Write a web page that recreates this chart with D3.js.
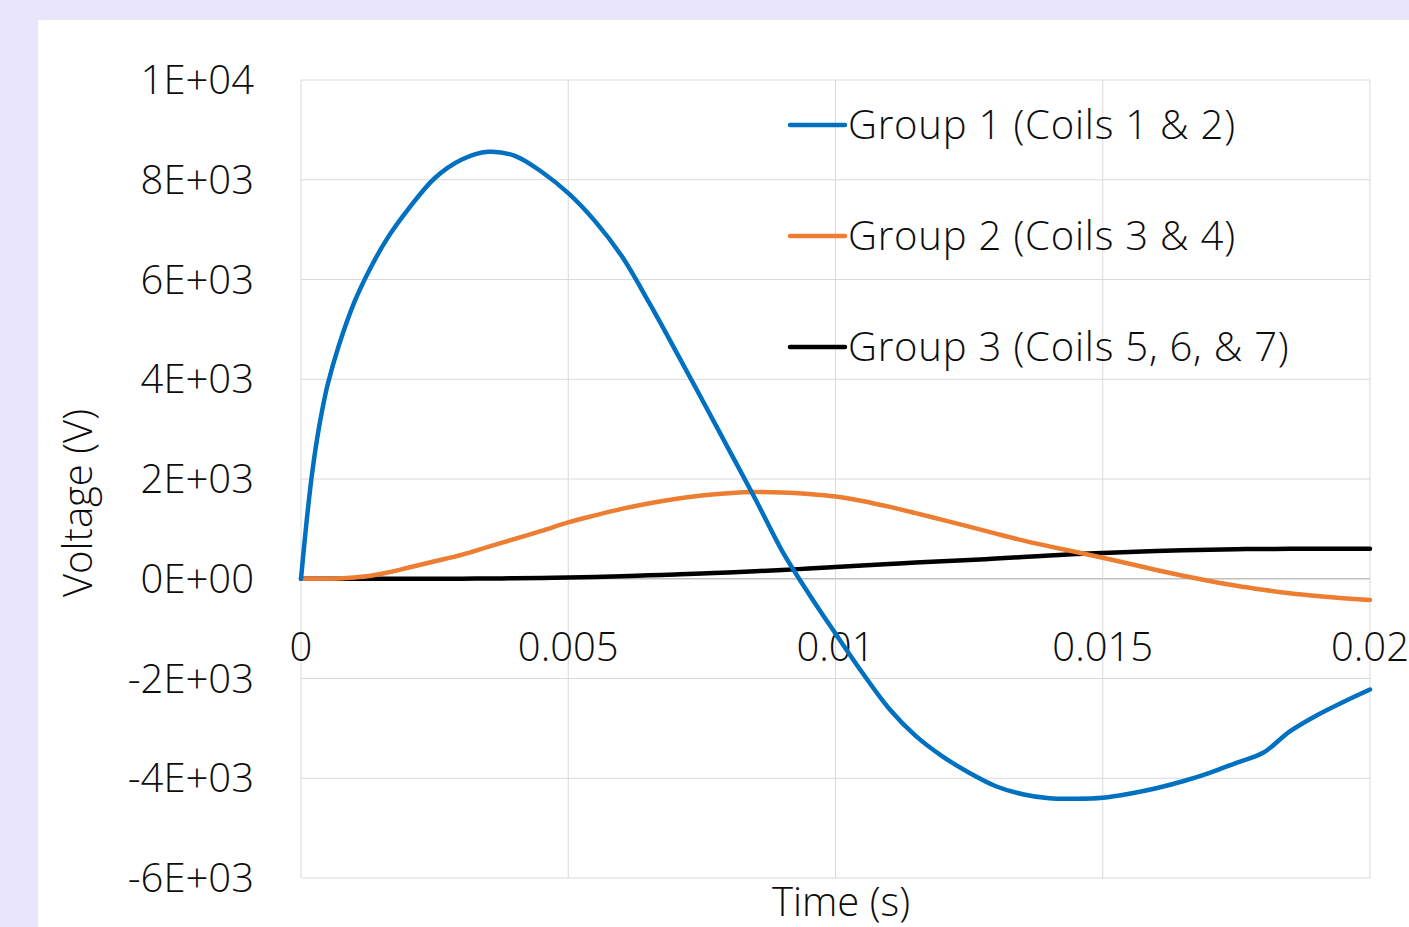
<!DOCTYPE html>
<html>
<head>
<meta charset="utf-8">
<script src="https://cdn.jsdelivr.net/npm/d3@7"></script>
<style>
  html, body { margin: 0; padding: 0; background: #e9e5fb; }
  svg { display: block; }
  text { font-family: "Open Sans", "Noto Sans", sans-serif; font-weight: 300; fill: #0d0d0d; }
</style>
</head>
<body>
<div id="graph"></div>
<script>
// time samples (s)
const times = [0, 0.0001, 0.0002, 0.0003, 0.0004, 0.0005, 0.0007, 0.001, 0.0013, 0.0016,
  0.002, 0.0025, 0.003, 0.0035, 0.004, 0.0045, 0.005, 0.0055, 0.006, 0.0065,
  0.007, 0.0075, 0.008, 0.0085, 0.009, 0.0095, 0.01, 0.0105, 0.011, 0.0115,
  0.012, 0.0125, 0.013, 0.0135, 0.014, 0.0145, 0.015, 0.0155, 0.016, 0.0165,
  0.017, 0.0175, 0.018, 0.0185, 0.019, 0.0195, 0.02]

// voltages (V)
const group1 = [0, 1100, 2050, 2800, 3400, 3900, 4650, 5550, 6230, 6800,
  7400, 8030, 8400, 8560, 8480, 8160, 7730, 7170, 6470, 5560,
  4590, 3600, 2600, 1600, 560, -300, -1100, -1880, -2600, -3150,
  -3560, -3890, -4160, -4320, -4400, -4410, -4390, -4310, -4200, -4060,
  -3890, -3690, -3490, -3060, -2740, -2470, -2220]
const group2 = [0, 0, 0, 0, 0, 0, 5, 25, 60, 120,
  220, 350, 480, 640, 800, 960, 1130, 1270, 1400, 1510,
  1600, 1670, 1715, 1737, 1730, 1700, 1650, 1560, 1445, 1315,
  1180, 1045, 905, 770, 650, 535, 420, 300, 175, 60,
  -45, -140, -220, -290, -345, -390, -425]
const group3 = [0, 0, 0, 0, 0, 0, 0, 0, 0, 0,
  0, 0, 0, 5, 10, 15, 25, 35, 50, 68,
  87, 105, 125, 150, 175, 205, 235, 265, 295, 325,
  350, 375, 405, 435, 465, 495, 515, 535, 555, 572,
  583, 592, 597, 600, 601, 601, 601]

const seriesNames = ["Group 1 (Coils 1 & 2)", "Group 2 (Coils 3 & 4)", "Group 3 (Coils 5, 6, & 7)"]
const seriesColors = ["#0070c0", "#ed7d31", "#000000"]

const yTickValues = [-6000, -4000, -2000, 0, 2000, 4000, 6000, 8000, 10000]
const yTickLabels = ["-6E+03", "-4E+03", "-2E+03", "0E+00", "2E+03", "4E+03", "6E+03", "8E+03", "1E+04"]
const xTickValues = [0, 0.005, 0.01, 0.015, 0.02]
const xTickLabels = ["0", "0.005", "0.01", "0.015", "0.02"]

const W = 1409, H = 927
const plot = { left: 301, right: 1370, top: 80, bottom: 878 }

const svg = d3.select("#graph").append("svg")
  .attr("width", W)
  .attr("height", H)

// white chart area
svg.append("rect")
  .attr("x", 38).attr("y", 20)
  .attr("width", W - 38).attr("height", H - 20)
  .attr("fill", "#ffffff")

const x = d3.scaleLinear().domain([0, 0.02]).range([plot.left, plot.right])
const y = d3.scaleLinear().domain([-6000, 10000]).range([plot.bottom, plot.top])

// gridlines
svg.append("g")
  .selectAll("line")
  .data(yTickValues)
  .enter().append("line")
  .attr("x1", plot.left).attr("x2", plot.right)
  .attr("y1", d => y(d)).attr("y2", d => y(d))
  .attr("stroke", d => d === 0 ? "#bfbfbf" : "#d9d9d9")
  .attr("stroke-width", d => d === 0 ? 1.5 : 1)

svg.append("g")
  .selectAll("line")
  .data(xTickValues)
  .enter().append("line")
  .attr("x1", d => x(d)).attr("x2", d => x(d))
  .attr("y1", plot.top).attr("y2", plot.bottom)
  .attr("stroke", "#d9d9d9")
  .attr("stroke-width", 1)

// y tick labels
svg.append("g")
  .selectAll("text")
  .data(yTickValues)
  .enter().append("text")
  .attr("x", 254)
  .attr("y", d => y(d))
  .attr("dy", "0.35em")
  .attr("text-anchor", "end")
  .style("font-size", "40px")
  .text((d, i) => yTickLabels[i])

// x tick labels, next to the zero line
svg.append("g")
  .selectAll("text")
  .data(xTickValues)
  .enter().append("text")
  .attr("x", d => x(d))
  .attr("y", y(0) + 82)
  .attr("text-anchor", "middle")
  .style("font-size", "40px")
  .text((d, i) => xTickLabels[i])

// series
const allSeries = [group1, group2, group3]
const line = d3.line()
  .x(d => x(d.t))
  .y(d => y(d.v))
  .curve(d3.curveCatmullRom.alpha(0.5))

// draw back to front: black, orange, blue
;[2, 1, 0].forEach(k => {
  const pts = times.map((t, i) => ({ t: t, v: allSeries[k][i] }))
  svg.append("path")
    .datum(pts)
    .attr("d", line)
    .attr("fill", "none")
    .attr("stroke", seriesColors[k])
    .attr("stroke-width", 4.5)
    .attr("stroke-linejoin", "round")
    .attr("stroke-linecap", "round")
})

// legend
const legend = svg.append("g")
seriesNames.forEach((name, i) => {
  const ly = 125 + i * 111
  legend.append("line")
    .attr("x1", 790).attr("x2", 845)
    .attr("y1", ly).attr("y2", ly)
    .attr("stroke", seriesColors[i])
    .attr("stroke-width", 4.5)
    .attr("stroke-linecap", "round")
  legend.append("text")
    .attr("x", 848)
    .attr("y", ly)
    .attr("dy", "0.35em")
    .style("font-size", "40px")
    .style("letter-spacing", "0.8px")
    .text(name)
})

// axis titles
svg.append("text")
  .attr("transform", "translate(92," + 503 + ") rotate(-90)")
  .attr("text-anchor", "middle")
  .style("font-size", "40px")
  .text("Voltage (V)")

svg.append("text")
  .attr("x", 841)
  .attr("y", 916)
  .attr("text-anchor", "middle")
  .style("font-size", "40px")
  .text("Time (s)")
</script>
</body>
</html>
